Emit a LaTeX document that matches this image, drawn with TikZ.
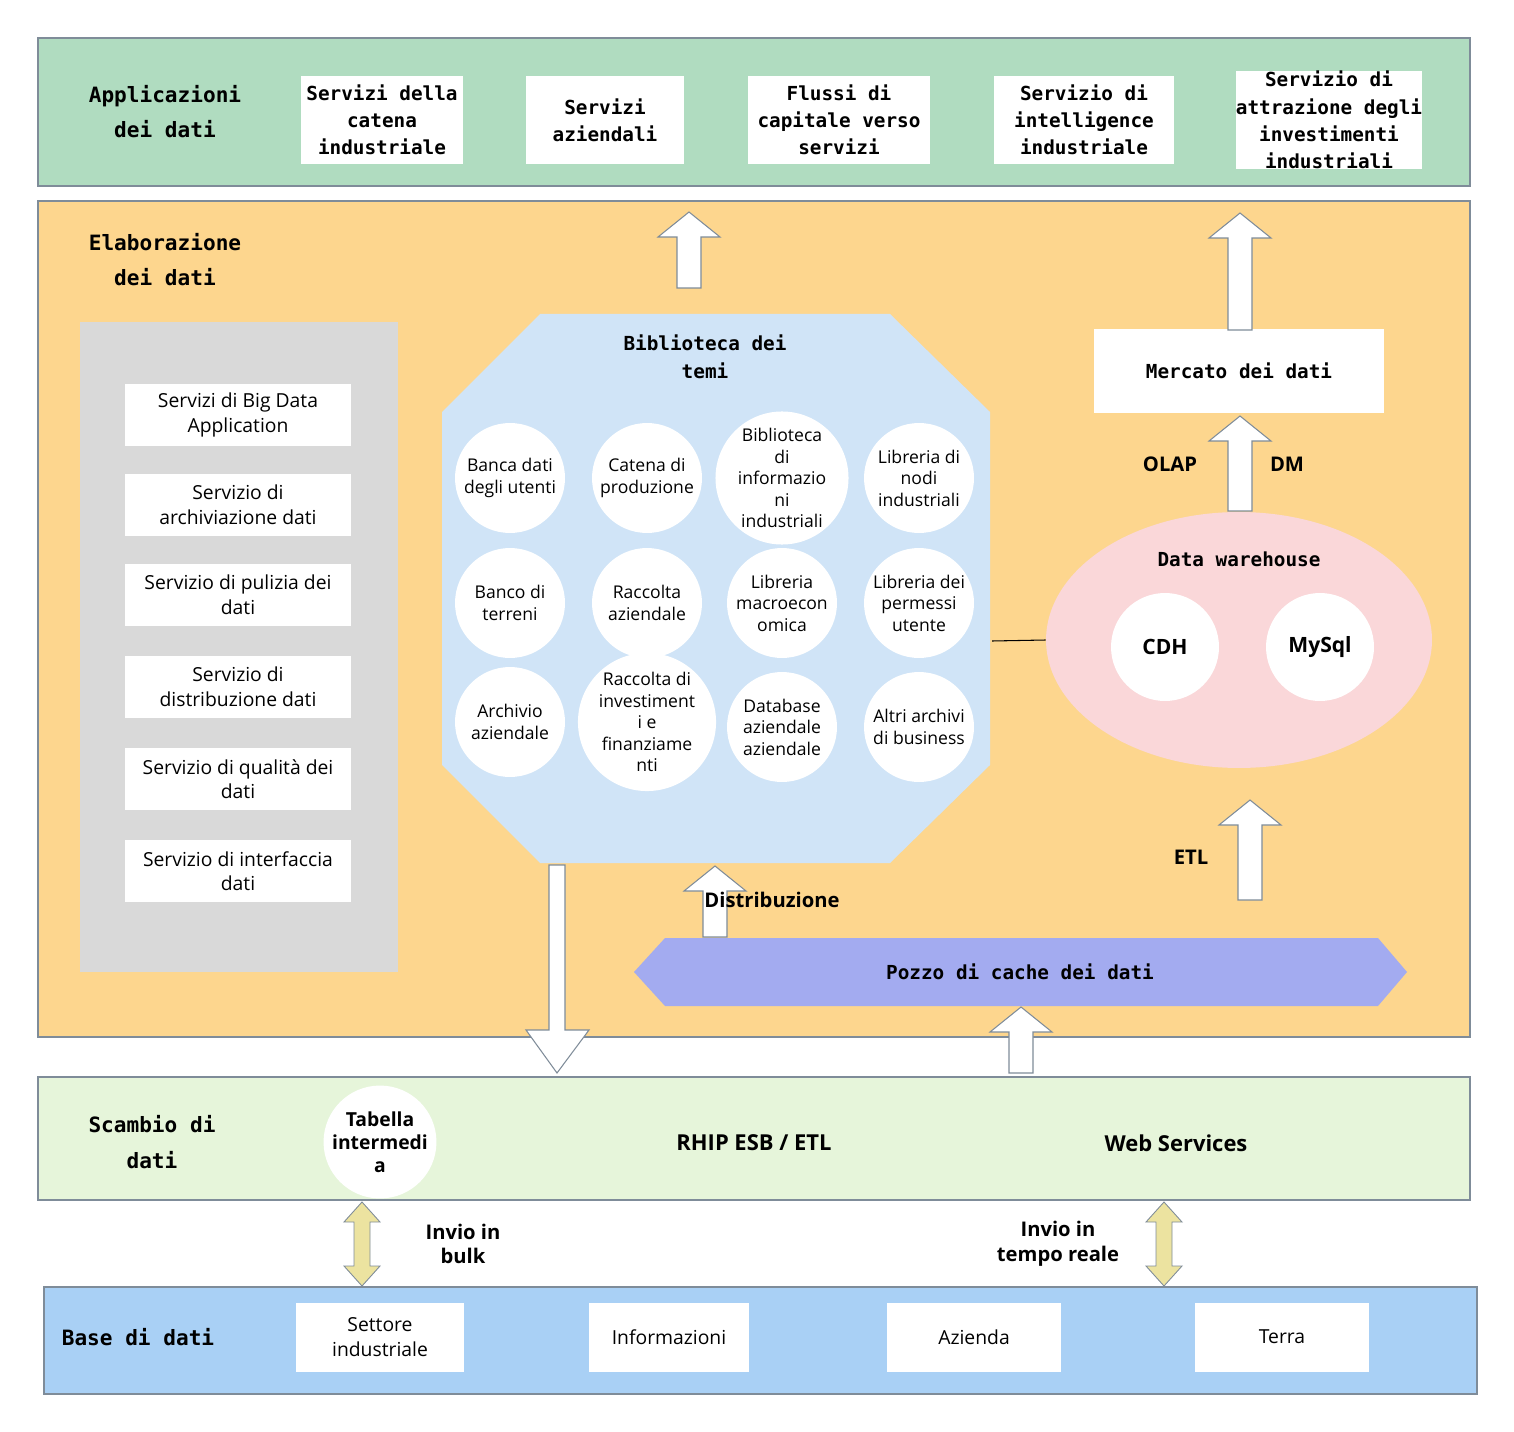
\documentclass[tikz,border=0pt]{standalone}
\usepackage{fontspec}
\setmainfont{Open Sans}
\setmonofont{DejaVu Sans Mono}
\usetikzlibrary{positioning,shapes.geometric}
\definecolor{appgreen}{HTML}{B0DCC0}
\definecolor{elabor}{HTML}{FDD68E}
\definecolor{panelgray}{HTML}{D9D9D9}
\definecolor{libblue}{HTML}{D0E4F7}
\definecolor{dwpink}{HTML}{FAD7D9}
\definecolor{poolblue}{HTML}{A3ABF0}
\definecolor{exgreen}{HTML}{E6F5DA}
\definecolor{baseblue}{HTML}{A9D0F5}
\definecolor{dblyellow}{HTML}{ECE3A0}
\definecolor{edge}{HTML}{7F8C99}
\tikzset{
  band/.style={draw=edge,line width=0.6pt},
  head/.style={font=\ttfamily\bfseries\fontsize{12}{20}\selectfont,align=center},
  mbox/.style={fill=white,font=\ttfamily\bfseries\fontsize{11}{15.5}\selectfont,align=center},
  sbox/.style={fill=white,font=\fontsize{11}{14}\selectfont,align=center},
  topic/.style={circle,fill=white,minimum size=2.2cm,inner sep=0pt,font=\fontsize{10}{12.2}\selectfont,align=center},
  lbl/.style={font=\bfseries\fontsize{11.5}{14}\selectfont,align=center},
  blockarr/.style={fill=white,draw=edge,line width=0.6pt},
}
\newcommand{\uparr}[3]{\draw[blockarr] (#1-12,#2) -- (#1-12,#3+25) -- (#1-31,#3+25) -- (#1,#3) -- (#1+31,#3+25) -- (#1+12,#3+25) -- (#1+12,#2) -- cycle;}
\newcommand{\dblarr}[3]{\draw[fill=dblyellow,draw=edge,line width=0.5pt] (#1-8,#2+20) -- (#1-18,#2+20) -- (#1,#2) -- (#1+18,#2+20) -- (#1+8,#2+20) -- (#1+8,#3-20) -- (#1+18,#3-20) -- (#1,#3) -- (#1-18,#3-20) -- (#1-8,#3-20) -- cycle;}
\begin{document}
\begin{tikzpicture}[x=0.02cm,y=-0.02cm]
  \useasboundingbox (0,0) rectangle (1514,1432);
  %applicazioni
  \draw[band,fill=appgreen] (38,38) rectangle (1470,186);
  \node[head] (apptitle) at (165,112) {Applicazioni\\dei dati};
  \node[mbox,minimum width=3.16cm,minimum height=1.78cm] (app1) at (382,120) {Servizi della\\catena\\industriale};
  \node[mbox,minimum width=3.16cm,minimum height=1.78cm] (app2) at (605,120) {Servizi\\aziendali};
  \node[mbox,minimum width=3.64cm,minimum height=1.78cm] (app3) at (839,120) {Flussi di\\capitale verso\\servizi};
  \node[mbox,minimum width=3.62cm,minimum height=1.78cm] (app4) at (1084,120) {Servizio di\\intelligence\\industriale};
  \node[mbox,minimum width=3.62cm,minimum height=1.78cm,inner sep=0pt] (app5) at (1329,120) {Servizio di\\attrazione degli\\investimenti\\industriali};

  %elaborazione
  \draw[band,fill=elabor] (38,201) rectangle (1470,1037);
  \node[head] (elabtitle) at (165,260) {Elaborazione\\dei dati};
  \fill[panelgray] (80,322) rectangle (398,972);
  \foreach \y/\t in {415/{Servizi di Big Data\\Application},505/{Servizio di\\archiviazione dati},595/{Servizio di pulizia dei\\dati},687/{Servizio di\\distribuzione dati},779/{Servizio di qualità dei\\dati},871/{Servizio di interfaccia\\dati}}
    \node[sbox,minimum width=4.54cm,minimum height=1.26cm] at (238,\y) {\t};

  %biblioteca
  \fill[libblue] (540,314) -- (890,314) -- (990,412) -- (990,765) -- (890,863) -- (540,863) -- (442,765) -- (442,412) -- cycle;
  \node[head,font=\ttfamily\bfseries\fontsize{11}{16}\selectfont] (libtitle) at (705,357) {Biblioteca dei\\temi};
  \node[topic] (t1) at (510,478) {Banca dati\\degli utenti};
  \node[topic] (t2) at (647,478) {Catena di\\produzione};
  \node[topic] (t3) at (782,478) {Biblioteca\\di\\informazio\\ni\\industriali};
  \node[topic] (t4) at (919,478) {Libreria di\\nodi\\industriali};
  \node[topic] (t5) at (510,603) {Banco di\\terreni};
  \node[topic] (t6) at (647,603) {Raccolta\\aziendale};
  \node[topic] (t7) at (782,603) {Libreria\\macroecon\\omica};
  \node[topic] (t8) at (919,603) {Libreria dei\\permessi\\utente};
  \node[topic] (t9) at (510,722) {Archivio\\aziendale};
  \node[topic] (t10) at (647,722) {Raccolta di\\investiment\\i e\\finanziame\\nti};
  \node[topic] (t11) at (782,727) {Database\\aziendale\\aziendale};
  \node[topic] (t12) at (919,727) {Altri archivi\\di business};

  %data warehouse
  \node[mbox,minimum width=5.82cm,minimum height=1.7cm] (market) at (1239,371) {Mercato dei dati};
  \node[ellipse,fill=dwpink,minimum width=7.72cm,minimum height=5.12cm] (dw) at (1239,640) {};
  \node[head,font=\ttfamily\bfseries\fontsize{11}{16}\selectfont] (dwtitle) at (1239,559) {Data warehouse};
  \node[topic,minimum size=2.16cm,font=\bfseries\fontsize{12}{14}\selectfont] (cdh) at (1165,647) {CDH};
  \node[topic,minimum size=2.16cm,font=\bfseries\fontsize{12}{14}\selectfont] (mysql) at (1320,647) {MySql};
  \coordinate (libedge) at (992,641);
  \draw[line width=0.6pt] (libedge) -- (dw.west);
  \node[lbl] (olap) at (1170,464) {OLAP};
  \node[lbl] (dm) at (1287,464) {DM};
  \node[lbl] (etl) at (1191,857) {ETL};

  %arrows
  \uparr{689}{288}{212}
  \uparr{1240}{330}{213}
  \uparr{1240}{511}{416}
  \uparr{1250}{900}{800}
  \uparr{715}{937}{866}
  \uparr{1021}{1073}{1007}
  \draw[blockarr] (549,865) -- (549,1030) -- (526,1030) -- (557,1073) -- (589,1030) -- (565,1030) -- (565,865) -- cycle;
  \node[lbl] (distr) at (772,900) {Distribuzione};

  %pozzo
  \fill[poolblue] (634,972) -- (665,938) -- (1378,938) -- (1407,972) -- (1378,1006) -- (665,1006) -- cycle;
  \node[mbox,fill=none] (pool) at (1020,972) {Pozzo di cache dei dati};

  %scambio
  \draw[band,fill=exgreen] (38,1077) rectangle (1470,1200);
  \node[head] (extitle) at (152,1142) {Scambio di\\dati};
  \node[topic,minimum size=2.08cm,font=\bfseries\fontsize{11}{13}\selectfont] (tab) at (380,1142) {Tabella\\intermedi\\a};
  \node[lbl,font=\bfseries\fontsize{12.5}{15}\selectfont] (esb) at (754,1143) {RHIP ESB / ETL};
  \node[lbl,font=\bfseries\fontsize{12.5}{15}\selectfont] (ws) at (1176,1143) {Web Services};
  \dblarr{362}{1202}{1286}
  \dblarr{1164}{1202}{1286}
  \node[lbl] (bulk) at (463,1244) {Invio in\\bulk};
  \node[lbl] (rt) at (1058,1244) {Invio in\\tempo reale};

  %base
  \draw[band,fill=baseblue] (44,1287) rectangle (1477,1394);
  \node[head] (basetitle) at (138,1337) {Base di dati};
  \node[sbox,minimum width=3.36cm,minimum height=1.38cm] (b1) at (380,1337) {Settore\\industriale};
  \node[sbox,minimum width=3.22cm,minimum height=1.38cm] (b2) at (669,1337) {Informazioni};
  \node[sbox,minimum width=3.48cm,minimum height=1.38cm] (b3) at (974,1337) {Azienda};
  \node[sbox,minimum width=3.48cm,minimum height=1.38cm] (b4) at (1282,1337) {Terra};
\end{tikzpicture}
\end{document}
